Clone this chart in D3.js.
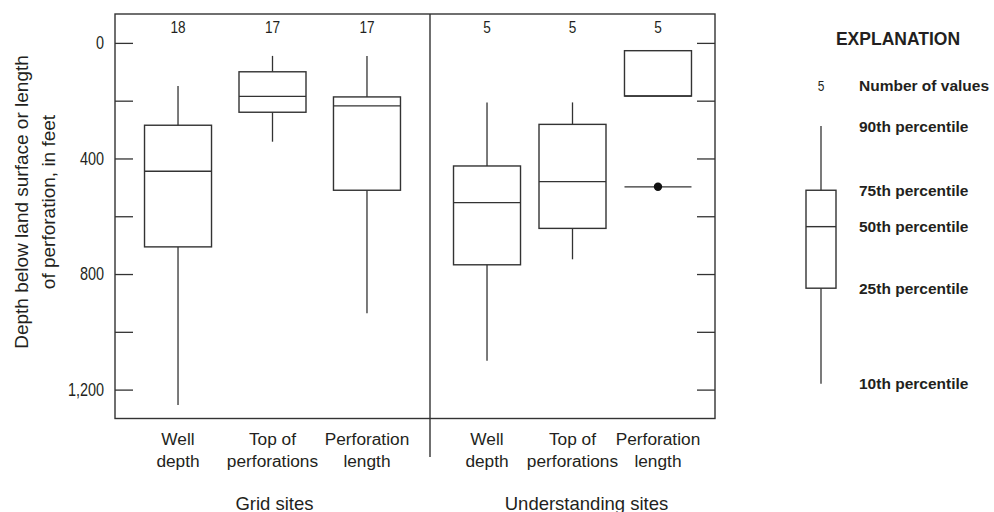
<!DOCTYPE html>
<html>
<head>
<meta charset="utf-8">
<script src="https://cdn.jsdelivr.net/npm/d3@7"></script>
<style>
  body { margin: 0; background: #fff; }
  text { fill: #231f20; }
</style>
</head>
<body>
<svg id="chart" width="994" height="512"></svg>
<script>
// Well-construction statistics, grid sites vs. understanding sites
const groups = ["Grid sites", "Understanding sites"];
const categories = ["Well depth", "Top of perforations", "Perforation length"];
const categoryLines = [["Well", "depth"], ["Top of", "perforations"], ["Perforation", "length"]];
const counts = [[18, 17, 17], [5, 5, 5]];
// percentiles in feet, one row per group
const p10 = [[1253, 342, 936], [1100, 749, 184]];
const p25 = [[706, 240, 510], [768, 642, 184]];
const p50 = [[444, 185, 218], [553, 480, 184]];
const p75 = [[285, 100, 187], [426, 282, 27]];
const p90 = [[149, 45, 45], [206, 206, 27]];
// single marked value drawn as a line with a dot
const markedValues = [[null, null, null], [null, null, 498]];
const yTickValues = [0, 200, 400, 600, 800, 1000, 1200];
const yLabelValues = [0, 400, 800, 1200];
// explanation box
const legendLabels = ["90th percentile", "75th percentile", "50th percentile", "25th percentile", "10th percentile"];
const legendValues = [288, 510, 636, 849, 1180];
const legendCount = 5;

const svg = d3.select("#chart");
const frame = { left: 115, top: 14, right: 715, bottom: 418.5 };
const divider = 430;
const ink = "#333";
const font = "'Liberation Sans', Arial, sans-serif";
const numScale = 0.78; // horizontal squeeze for condensed figures

// text squeezed horizontally around its anchor point
function narrowText(parent, x, yPos, str, size, sx, anchor) {
  return parent.append("text")
    .attr("transform", `translate(${x},${yPos}) scale(${sx},1)`)
    .attr("text-anchor", anchor || "middle")
    .attr("font-family", font).attr("font-size", size).text(str);
}

const y = d3.scaleLinear().domain([-100, 1300]).range([frame.top, frame.bottom]);
const groupRanges = [[frame.left, divider], [divider, frame.right]];
const xScales = groupRanges.map(r => d3.scalePoint().domain(categories).range(r).padding(0.667));
const boxW = 67;

// axes: inward ticks on both sides
const leftAxis = d3.axisLeft(y).tickValues(yTickValues).tickSize(-18).tickPadding(11)
  .tickFormat(d => yLabelValues.includes(d) ? d3.format(",")(d) : "");
const gl = svg.append("g").attr("transform", `translate(${frame.left},0)`).call(leftAxis);
gl.select(".domain").remove();
gl.selectAll("line").attr("stroke", ink).attr("stroke-width", 1.3);
gl.selectAll("text").attr("font-family", font).attr("font-size", 18.5)
  .attr("x", -11 / numScale).attr("transform", `scale(${numScale},1)`).style("fill", "#231f20");

const rightAxis = d3.axisRight(y).tickValues(yTickValues).tickSize(-18).tickFormat("");
const gr = svg.append("g").attr("transform", `translate(${frame.right},0)`).call(rightAxis);
gr.select(".domain").remove();
gr.selectAll("line").attr("stroke", ink).attr("stroke-width", 1.3);

// frame and group divider
svg.append("rect").attr("x", frame.left).attr("y", frame.top)
  .attr("width", frame.right - frame.left).attr("height", frame.bottom - frame.top)
  .attr("fill", "none").attr("stroke", ink).attr("stroke-width", 1.4);
svg.append("line").attr("x1", divider).attr("x2", divider).attr("y1", frame.top).attr("y2", 457)
  .attr("stroke", ink).attr("stroke-width", 1.4);

// boxes
groups.forEach((g, gi) => {
  const x = xScales[gi];
  categories.forEach((c, ci) => {
    const cx = x(c);
    const grp = svg.append("g");
    const s = { p10: p10[gi][ci], p25: p25[gi][ci], p50: p50[gi][ci], p75: p75[gi][ci], p90: p90[gi][ci] };
    grp.append("line").attr("x1", cx).attr("x2", cx).attr("y1", y(s.p90)).attr("y2", y(s.p75))
      .attr("stroke", ink).attr("stroke-width", 1.3);
    grp.append("line").attr("x1", cx).attr("x2", cx).attr("y1", y(s.p25)).attr("y2", y(s.p10))
      .attr("stroke", ink).attr("stroke-width", 1.3);
    grp.append("rect").attr("x", cx - boxW / 2).attr("width", boxW)
      .attr("y", y(s.p75)).attr("height", y(s.p25) - y(s.p75))
      .attr("fill", "none").attr("stroke", ink).attr("stroke-width", 1.4);
    grp.append("line").attr("x1", cx - boxW / 2).attr("x2", cx + boxW / 2)
      .attr("y1", y(s.p50)).attr("y2", y(s.p50)).attr("stroke", ink).attr("stroke-width", 1.4);
    const mv = markedValues[gi][ci];
    if (mv != null) {
      grp.append("line").attr("x1", cx - boxW / 2).attr("x2", cx + boxW / 2)
        .attr("y1", y(mv)).attr("y2", y(mv)).attr("stroke", ink).attr("stroke-width", 1.3);
      grp.append("circle").attr("cx", cx).attr("cy", y(mv)).attr("r", 4.2).attr("fill", "#111");
    }
    // number of values
    narrowText(svg, cx, 33, counts[gi][ci], 17, 0.8);
    // category label
    const t = svg.append("text").attr("text-anchor", "middle")
      .attr("font-family", font).attr("font-size", 17.3);
    categoryLines[ci].forEach((ln, li) => {
      t.append("tspan").attr("x", cx).attr("y", 445 + li * 21.5).text(ln);
    });
  });
  const gx = (groupRanges[gi][0] + groupRanges[gi][1]) / 2 + [2, 14][gi];
  svg.append("text").attr("x", gx).attr("y", 509.5).attr("text-anchor", "middle")
    .attr("font-family", font).attr("font-size", 18.5).text(g);
});

// y-axis title
const yt = svg.append("text").attr("transform", "translate(0,202) rotate(-90)")
  .attr("text-anchor", "middle").attr("font-family", font).attr("font-size", 19);
yt.append("tspan").attr("x", 0).attr("y", 28).text("Depth below land surface or length");
yt.append("tspan").attr("x", 0).attr("y", 55).text("of perforation, in feet");

// explanation
const lx = 821, lw = 30, ltx = 859;
svg.append("text").attr("x", 898).attr("y", 45).attr("text-anchor", "middle")
  .attr("font-family", font).attr("font-weight", "bold").attr("font-size", 17.5).text("EXPLANATION");
narrowText(svg, lx, 85.5, legendCount, 15, 0.8).attr("dy", "0.35em");
svg.append("text").attr("x", ltx).attr("y", 85.5).attr("dy", "0.35em")
  .attr("font-family", font).attr("font-weight", "bold").attr("font-size", 15.5).text("Number of values");
const [l90, l75, l50, l25, l10] = legendValues;
svg.append("line").attr("x1", lx).attr("x2", lx).attr("y1", y(l90)).attr("y2", y(l75)).attr("stroke", ink).attr("stroke-width", 1.3);
svg.append("line").attr("x1", lx).attr("x2", lx).attr("y1", y(l25)).attr("y2", y(l10)).attr("stroke", ink).attr("stroke-width", 1.3);
svg.append("rect").attr("x", lx - lw / 2).attr("width", lw).attr("y", y(l75)).attr("height", y(l25) - y(l75))
  .attr("fill", "none").attr("stroke", ink).attr("stroke-width", 1.4);
svg.append("line").attr("x1", lx - lw / 2).attr("x2", lx + lw / 2).attr("y1", y(l50)).attr("y2", y(l50))
  .attr("stroke", ink).attr("stroke-width", 1.4);
legendLabels.forEach((lab, i) => {
  svg.append("text").attr("x", ltx).attr("y", y(legendValues[i])).attr("dy", "0.35em")
    .attr("font-family", font).attr("font-weight", "bold").attr("font-size", 15.5).text(lab);
});
</script>
</body>
</html>
